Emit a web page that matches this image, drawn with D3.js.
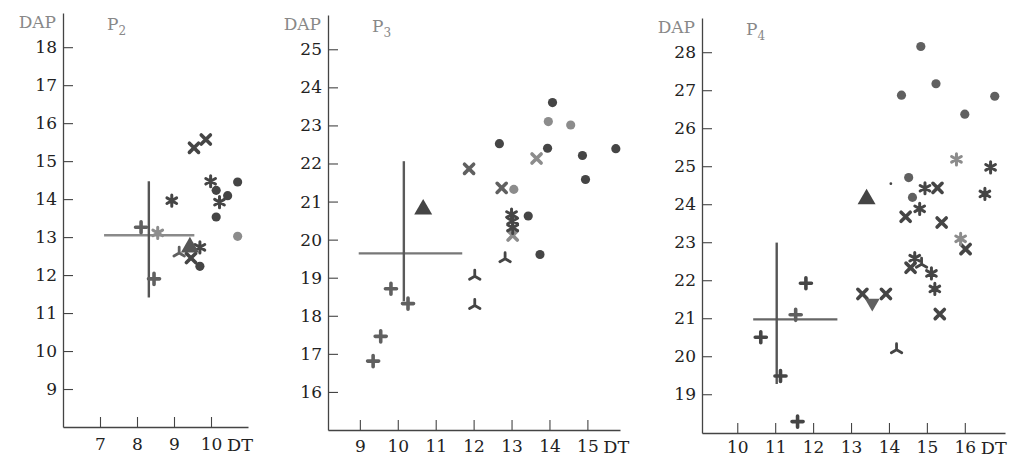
<!DOCTYPE html>
<html>
<head>
<meta charset="utf-8">
<script src="https://cdn.jsdelivr.net/npm/d3@7"></script>
<style>
  body { margin: 0; background: #fff; }
  svg { display: block; }
</style>
</head>
<body>
<svg id="chart" width="1014" height="458"></svg>
<script>
// ---- P2 ----
var p2XTicks = [7, 8, 9, 10];
var p2YTicks = [9, 10, 11, 12, 13, 14, 15, 16, 17, 18];
var p2Plus = [[8.11, 13.26], [8.46, 11.90]];
var p2Times = [[9.54, 15.35], [9.86, 15.57], [9.46, 12.45]];
var p2Aster = [[8.94, 13.96], [9.99, 14.47], [10.23, 13.92], [9.70, 12.73]];
var p2AsterPale = [[8.56, 13.11]];
var p2Circle = [[10.14, 14.23], [10.72, 14.45], [10.45, 14.09], [10.14, 13.53], [9.70, 12.23]];
var p2CirclePale = [[10.72, 13.02]];
var p2Wye = [[9.14, 12.58]];
var p2TriUp = [[9.43, 12.80]];
var p2Mean = [8.32, 13.05];
var p2RangeX = [7.11, 9.55];
var p2RangeY = [11.41, 14.47];

// ---- P3 ----
var p3XTicks = [9, 10, 11, 12, 13, 14, 15];
var p3YTicks = [16, 17, 18, 19, 20, 21, 22, 23, 24, 25];
var p3Plus = [[9.82, 18.71], [10.27, 18.32], [9.55, 17.46], [9.35, 16.81]];
var p3Times = [[11.88, 21.86], [12.74, 21.36]];
var p3TimesPale = [[13.66, 22.13], [13.03, 20.11]];
var p3Aster = [[13.00, 20.66], [13.03, 20.49], [13.03, 20.31]];
var p3Circle = [[14.08, 23.60], [12.68, 22.52], [13.95, 22.40], [15.75, 22.39], [14.87, 22.21],
                [14.95, 21.58], [13.44, 20.62], [13.75, 19.61]];
var p3CirclePale = [[13.97, 23.10], [14.56, 23.01], [13.06, 21.32]];
var p3Wye = [[12.83, 19.50], [12.03, 19.04], [12.03, 18.27]];
var p3TriUp = [[10.67, 20.86]];
var p3Mean = [10.16, 19.64];
var p3RangeX = [8.97, 11.70];
var p3RangeY = [18.38, 22.06];

// ---- P4 ----
var p4XTicks = [10, 11, 12, 13, 14, 15, 16];
var p4YTicks = [19, 20, 21, 22, 23, 24, 25, 26, 27, 28];
var p4Plus = [[11.81, 21.92], [10.62, 20.50], [11.14, 19.48], [11.59, 18.28]];
var p4PlusPale = [[11.54, 21.09]];
var p4Times = [[15.28, 24.43], [14.44, 23.67], [15.39, 23.52], [16.02, 22.82], [14.57, 22.33],
               [15.34, 21.11], [13.30, 21.64], [13.92, 21.64]];
var p4Aster = [[16.68, 24.97], [14.95, 24.42], [16.53, 24.27], [14.81, 23.88], [14.68, 22.58],
               [15.12, 22.18], [15.21, 21.77]];
var p4AsterPale = [[15.78, 25.18], [15.89, 23.09]];
var p4Circle = [[14.84, 28.15], [15.24, 27.17], [14.33, 26.87], [16.79, 26.84], [16.00, 26.37],
                [14.52, 24.70], [14.62, 24.18]];
var p4Wye = [[14.86, 22.42], [14.20, 20.17]];
var p4TriUp = [[13.41, 24.20]];
var p4TriDown = [[13.56, 21.35]];
var p4Dot = [[14.05, 24.54]];
var p4Mean = [11.04, 20.97];
var p4RangeX = [10.42, 12.64];
var p4RangeY = [19.27, 22.99];

var DARK = "#454545", PALE = "#8c8c8c", MID = "#606060";
var SERIF = "'DejaVu Serif', 'Liberation Serif', serif";

// three-armed mark pointing up (like an inverted Y)
var triArm = {
    draw: function (ctx, size) {
        var r = Math.sqrt(size) * 0.6;
        ctx.moveTo(0, 0); ctx.lineTo(0, -r);
        ctx.moveTo(0, 0); ctx.lineTo(-r * 0.87, r * 0.5);
        ctx.moveTo(0, 0); ctx.lineTo(r * 0.87, r * 0.5);
    }
};

var panels = [
    { sub: "2", box: [63, 248, 13, 427], xd: [6.0, 11.0], yd: [8.0, 18.9], pad: 11,
      xt: p2XTicks, yt: p2YTicks, mean: p2Mean, rx: p2RangeX, ry: p2RangeY, hcol: "#8a8a8a", vcol: "#555",
      sets: [
        [p2Plus, "plus", MID], [p2Times, "times", DARK], [p2Aster, "aster", DARK],
        [p2AsterPale, "aster", PALE], [p2Circle, "circle", DARK], [p2CirclePale, "circle", PALE],
        [p2Wye, "wye", MID], [p2TriUp, "triUp", "#555"]
      ] },
    { sub: "3", box: [328, 620, 15, 430], xd: [8.16, 15.86], yd: [15.0, 25.9], pad: 10,
      xt: p3XTicks, yt: p3YTicks, mean: p3Mean, rx: p3RangeX, ry: p3RangeY, hcol: "#777", vcol: "#5a5a5a",
      sets: [
        [p3Plus, "plus", MID], [p3Times, "times", MID], [p3TimesPale, "times", PALE],
        [p3Aster, "aster", DARK], [p3Circle, "circle", DARK], [p3CirclePale, "circle", PALE],
        [p3Wye, "wye", DARK], [p3TriUp, "triUp", DARK]
      ] },
    { sub: "4", box: [702, 1005, 18, 433], xd: [9.07, 17.06], yd: [17.98, 28.9], pad: 8,
      xt: p4XTicks, yt: p4YTicks, mean: p4Mean, rx: p4RangeX, ry: p4RangeY, hcol: "#666", vcol: "#555",
      sets: [
        [p4Plus, "plus", DARK], [p4PlusPale, "plus", MID], [p4Times, "times", DARK],
        [p4Aster, "aster", DARK], [p4AsterPale, "aster", PALE], [p4Circle, "circle", MID],
        [p4Wye, "wye", DARK], [p4TriUp, "triUp", DARK], [p4TriDown, "triDown", MID],
        [p4Dot, "dot", DARK]
      ] }
];

var svg = d3.select("#chart");

panels.forEach(function (p) {
    var left = p.box[0], right = p.box[1], top = p.box[2], bottom = p.box[3];
    var x = d3.scaleLinear().domain(p.xd).range([left, right]);
    var y = d3.scaleLinear().domain(p.yd).range([bottom, top]);
    var g = svg.append("g");

    // axes, ticks pointing inward
    var ax = g.append("g")
        .attr("transform", "translate(0," + bottom + ")")
        .call(d3.axisBottom(x).tickValues(p.xt).tickFormat(d3.format("d"))
            .tickSizeInner(-10).tickSizeOuter(0).tickPadding(p.pad));
    var ay = g.append("g")
        .attr("transform", "translate(" + left + ",0)")
        .call(d3.axisLeft(y).tickValues(p.yt).tickFormat(d3.format("d"))
            .tickSizeInner(-10).tickSizeOuter(0).tickPadding(6));
    [ax, ay].forEach(function (a) {
        a.attr("font-family", SERIF).attr("font-size", 17);
        a.select(".domain").attr("stroke", "#444").attr("stroke-width", 1.3);
        a.selectAll(".tick line").attr("stroke", "#444").attr("stroke-width", 1.1);
        a.selectAll(".tick text").attr("fill", "#222");
    });

    // labels
    g.append("text")
        .attr("x", left - 7).attr("y", top + 15)
        .attr("text-anchor", "end")
        .attr("font-family", SERIF).attr("font-size", 17).attr("fill", "#888")
        .text("DAP");
    var pl = g.append("text")
        .attr("x", left + 44).attr("y", top + 17)
        .attr("font-family", SERIF).attr("font-size", 17).attr("fill", "#888");
    pl.append("tspan").text("P");
    pl.append("tspan").attr("dy", 5).attr("font-size", 12).text(p.sub);
    g.append("text")
        .attr("x", x(p.xt[p.xt.length - 1]) + 16).attr("y", bottom + p.pad + 13)
        .attr("font-family", SERIF).attr("font-size", 17).attr("fill", "#222")
        .attr("textLength", 26).attr("lengthAdjust", "spacingAndGlyphs")
        .text("DT");

    // mean cross
    g.append("line")
        .attr("x1", x(p.rx[0])).attr("x2", x(p.rx[1]))
        .attr("y1", y(p.mean[1])).attr("y2", y(p.mean[1]))
        .attr("stroke", p.hcol).attr("stroke-width", 2.4);
    g.append("line")
        .attr("x1", x(p.mean[0])).attr("x2", x(p.mean[0]))
        .attr("y1", y(p.ry[0])).attr("y2", y(p.ry[1]))
        .attr("stroke", p.vcol).attr("stroke-width", 2.4);

    // markers
    p.sets.forEach(function (s) {
        var pts = s[0], kind = s[1], col = s[2];
        var sel = g.append("g").selectAll("path").data(pts).enter().append("path");
        var sym, stroked = false, sw = 0, rot = 0, dy = 0;
        if (kind === "circle") sym = d3.symbol(d3.symbolCircle, 66);
        else if (kind === "dot") sym = d3.symbol(d3.symbolCircle, 6);
        else if (kind === "triUp") { sym = d3.symbol(d3.symbolTriangle, 140); dy = 2.5; }
        else if (kind === "triDown") { sym = d3.symbol(d3.symbolTriangle, 95); rot = 180; dy = -2; }
        else if (kind === "plus") { sym = d3.symbol(d3.symbolPlus, 42); stroked = true; sw = 3.6; }
        else if (kind === "times") { sym = d3.symbol(d3.symbolTimes, 56); stroked = true; sw = 3.6; }
        else if (kind === "aster") { sym = d3.symbol(d3.symbolAsterisk, 88); stroked = true; sw = 3; }
        else if (kind === "wye") { sym = d3.symbol(triArm, 100); stroked = true; sw = 2.8; }
        sel.attr("d", sym)
            .attr("transform", function (d) {
                return "translate(" + x(d[0]) + "," + (y(d[1]) + dy) + ")" + (rot ? " rotate(" + rot + ")" : "");
            })
            .attr("fill", stroked ? "none" : col)
            .attr("stroke", stroked ? col : "none")
            .attr("stroke-width", sw)
            .attr("stroke-linecap", "round");
    });
});
</script>
</body>
</html>
